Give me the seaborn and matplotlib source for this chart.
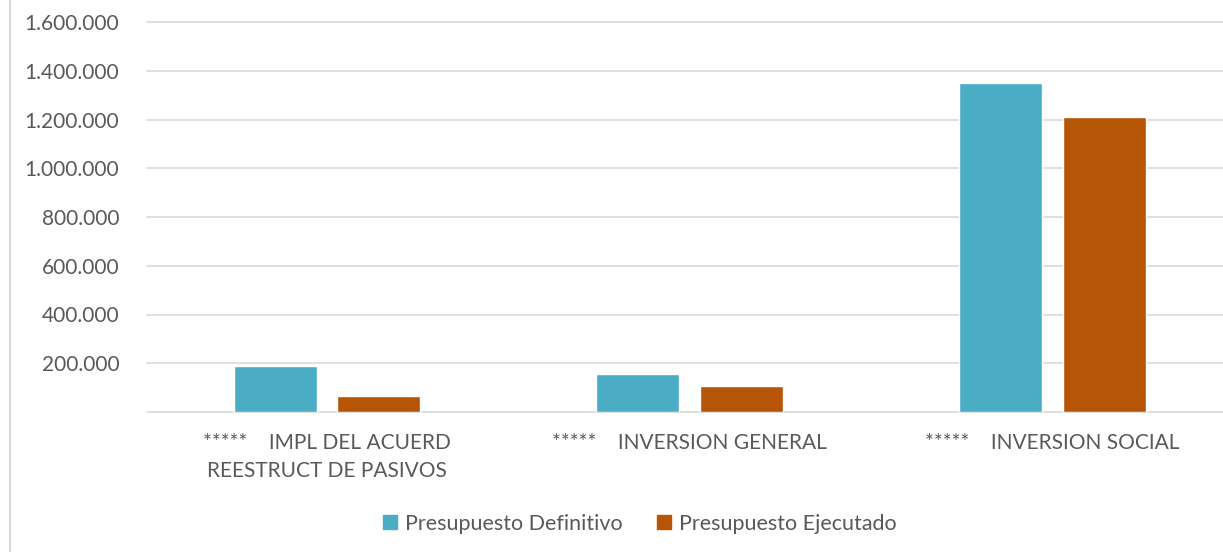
import pandas as pd
import matplotlib.pyplot as plt
from matplotlib.lines import Line2D
import seaborn as sns

# Data
categorias = ["*****    IMPL DEL ACUERD\nREESTRUCT DE PASIVOS",
              "*****    INVERSION GENERAL",
              "*****    INVERSION SOCIAL"]
series = ["Presupuesto Definitivo", "Presupuesto Ejecutado"]
definitivo = [187000, 156000, 1350000]
ejecutado = [65000, 106000, 1211000]
y_ticks = [200000, 400000, 600000, 800000, 1000000, 1200000, 1400000, 1600000]
y_labels = ["200.000", "400.000", "600.000", "800.000", "1.000.000",
            "1.200.000", "1.400.000", "1.600.000"]

colores = ["#4BACC6", "#B65506"]
gris_texto = "#595959"
gris_linea = "#D9D9D9"

df = pd.DataFrame({
    "categoria": categorias * 2,
    "serie": [series[0]] * 3 + [series[1]] * 3,
    "valor": definitivo + ejecutado,
})

sns.set_style("white")
plt.rcParams['font.family'] = ['Lato', 'DejaVu Sans']

fig = plt.figure(figsize=(12.23, 5.52), dpi=100)
ax = fig.add_axes([147 / 1223, 1 - 412 / 552, 1 - 147 / 1223, 390 / 552])

sns.barplot(data=df, x="categoria", y="valor", hue="serie", palette=colores,
            width=0.572, gap=0.2, order=categorias, hue_order=series, ax=ax,
            saturation=1, legend=False)

ax.set_xlim(-0.496, 2.47)
ax.set_ylim(0, 1600000)
ax.set_yticks(y_ticks)
ax.set_yticklabels(y_labels)
ax.set_xlabel("")
ax.set_ylabel("")

# Gridlines
for t in [0] + y_ticks:
    ax.axhline(t, color=gris_linea, lw=1.2, zorder=0, clip_on=False)

for s in ax.spines.values():
    s.set_visible(False)
ax.tick_params(axis="y", length=0, pad=20, labelsize=15, labelcolor=gris_texto)
ax.tick_params(axis="x", length=0, pad=15, labelsize=15, labelcolor=gris_texto)
for lbl in ax.get_xticklabels():
    lbl.set_linespacing(1.5)

# Legend
handles = [Line2D([], [], marker="s", ls="", markersize=10, color=c) for c in colores]
fig.legend(handles, series, loc="center", bbox_to_anchor=(0.523, 1 - 524 / 552),
           ncol=2, frameon=False, fontsize=15.5, labelcolor=gris_texto,
           handlelength=0.7, handletextpad=0.35, columnspacing=1.6)

# Chart border on the left
fig.add_artist(Line2D([10 / 1223, 10 / 1223], [0, 1], color=gris_linea, lw=1.5,
                      transform=fig.transFigure))

fig.savefig("out.png", dpi=100)
